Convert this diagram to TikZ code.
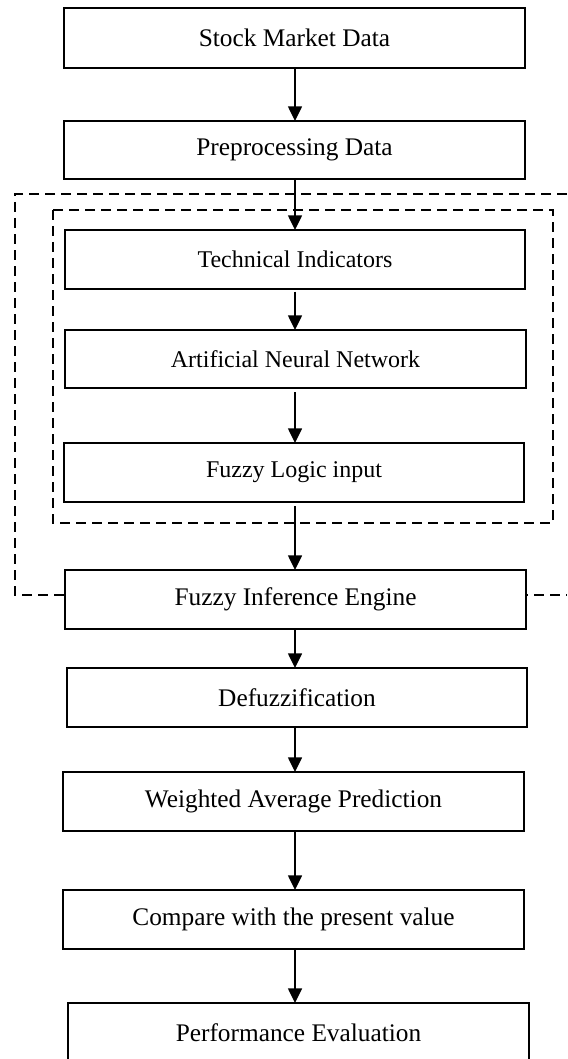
\documentclass[tikz,border=0pt]{standalone}
\usepackage{fontspec}
\setmainfont{Liberation Serif}
\usetikzlibrary{arrows.meta}
\tikzset{
  flowbox/.style={draw, line width=1.5pt, fill=white, inner sep=0pt, outer sep=0pt},
  tnr/.style={font=\fontsize{18pt}{20pt}\selectfont},
  cmb/.style={font=\fontsize{19pt}{21pt}\selectfont},
  arr/.style={line width=1.1pt, -{Triangle[length=11pt,width=10.5pt]}},
  grp/.style={line width=1.5pt, dash pattern=on 7.5pt off 4.5pt},
}
\newcommand{\bx}[7]{% name, left, right, top, bottom, style, text
  \node[flowbox,#6,minimum width={(#3-#2)*0.75pt},minimum height={(#5-#4)*0.75pt}]
    (#1) at ({(#2+#3)/2},{(#4+#5)/2}) {#7};}
\begin{document}
\begin{tikzpicture}[x=0.75pt,y=-0.75pt]
\useasboundingbox (0,0) rectangle (567,1059);
\clip (0,0) rectangle (567,1059);
% group frames
\draw[grp] (567,194) -- (15,194) -- (15,595) -- (567,595);
\draw[grp] (53,210) rectangle (553,523);
\coordinate (axis) at (295,0);
% boxes
\bx{smd}{64}{525}{8}{68}{cmb}{Stock Market Data}
\bx{pre}{64}{525}{121}{179}{cmb}{Preprocessing Data}
\bx{ti}{65}{525}{230}{289}{tnr}{Technical Indicators}
\bx{ann}{65}{526}{330}{388}{tnr}{Artificial Neural Network}
\bx{fli}{64}{524}{443}{502}{tnr}{Fuzzy Logic input}
\bx{fie}{65}{526}{570}{629}{cmb}{Fuzzy Inference Engine}
\bx{dfz}{67}{527}{668}{727}{cmb}{Defuzzification}
\bx{wap}{63}{524}{772}{831}{cmb}{Weighted Average Prediction}
\bx{cmp}{63}{524}{890}{949}{cmb}{Compare with the present value}
\bx{per}{68}{529}{1003}{1062}{cmb}{Performance Evaluation}
% arrows
\draw[arr] (axis |- smd.south) -- (axis |- pre.north);
\draw[arr] (axis |- pre.south) -- (axis |- ti.north);
\draw[arr, shorten <=2pt] (axis |- ti.south) -- (axis |- ann.north);
\draw[arr, shorten <=3pt] (axis |- ann.south) -- (axis |- fli.north);
\draw[arr, shorten <=3pt] (axis |- fli.south) -- (axis |- fie.north);
\draw[arr] (axis |- fie.south) -- (axis |- dfz.north);
\draw[arr] (axis |- dfz.south) -- (axis |- wap.north);
\draw[arr] (axis |- wap.south) -- (axis |- cmp.north);
\draw[arr] (axis |- cmp.south) -- (axis |- per.north);
\end{tikzpicture}
\end{document}
